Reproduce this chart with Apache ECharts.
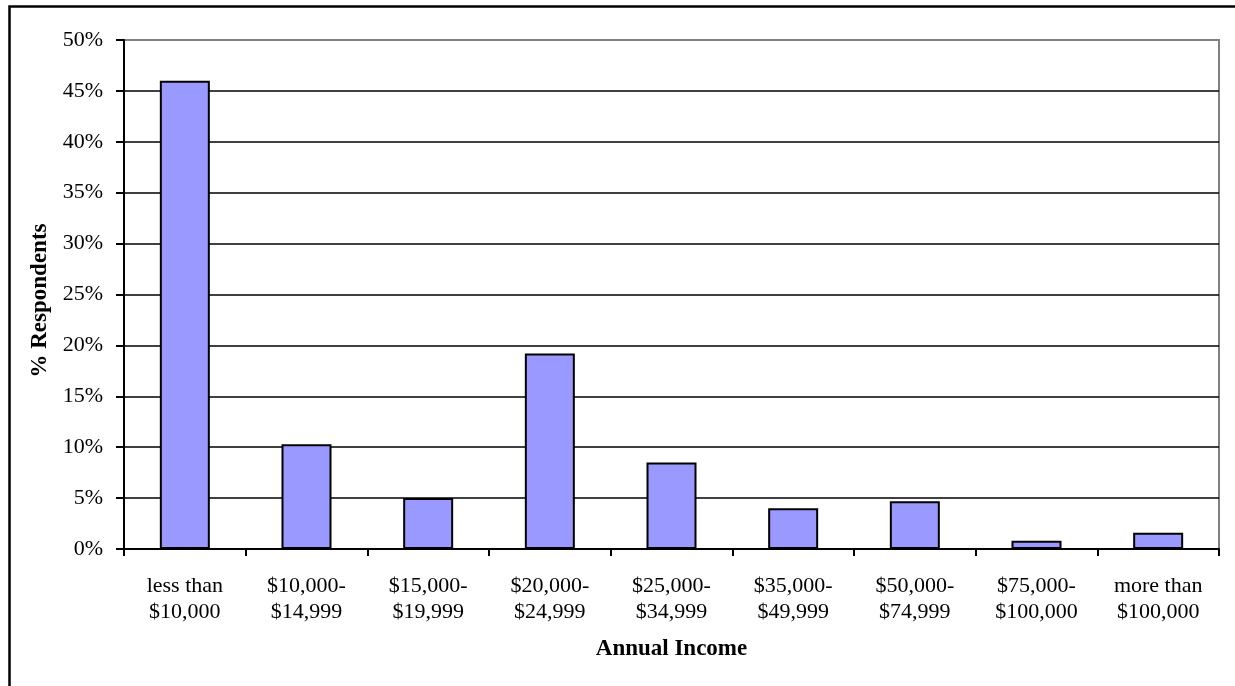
<!DOCTYPE html>
<html>
<head>
<meta charset="utf-8">
<script src="https://cdn.jsdelivr.net/npm/echarts@6/dist/echarts.min.js"></script>
<style>
  html, body { margin: 0; padding: 0; background: #fff; }
  #chart { width: 1235px; height: 686px; }
</style>
</head>
<body>
<div id="chart"></div>
<script>
// Income brackets and share of respondents in each (percent)
const categories = [
  'less than\n$10,000',
  '$10,000-\n$14,999',
  '$15,000-\n$19,999',
  '$20,000-\n$24,999',
  '$25,000-\n$34,999',
  '$35,000-\n$49,999',
  '$50,000-\n$74,999',
  '$75,000-\n$100,000',
  'more than\n$100,000'
];
const respondents = [46.0, 10.3, 5.0, 19.2, 8.5, 4.0, 4.7, 0.8, 1.6];

const yMin = 0;
const yMax = 50;
const yStep = 5;

const xTitle = 'Annual Income';
const yTitle = '% Respondents';

const FONT = '"Liberation Serif", "Times New Roman", serif';

// gridlines are black except the top one, which sits on the grey plot border
const splitColors = [];
for (let v = yMin; v <= yMax; v += yStep) splitColors.push(v === yMax ? '#808080' : '#000000');

const chart = echarts.init(document.getElementById('chart'), null, { renderer: 'canvas' });

chart.setOption({
  animation: false,
  backgroundColor: '#ffffff',
  graphic: [{
    type: 'rect',
    left: 7, top: 4,
    shape: { width: 1260, height: 720 },
    style: { fill: 'none', stroke: '#000', lineWidth: 2.5 },
    silent: true,
    z: 100
  }],
  grid: {
    left: 124, right: 16, top: 40, bottom: 137,
    show: true,
    borderColor: '#808080',
    borderWidth: 2,
    containLabel: false
  },
  xAxis: {
    type: 'category',
    data: categories,
    boundaryGap: true,
    name: xTitle,
    nameLocation: 'middle',
    nameGap: 89,
    nameTextStyle: { fontFamily: FONT, fontSize: 23, fontWeight: 'bold', color: '#000' },
    axisLine: { show: true, lineStyle: { color: '#000', width: 2 } },
    axisTick: { show: true, inside: false, length: 7, alignWithLabel: false, lineStyle: { color: '#000', width: 2 } },
    axisLabel: {
      interval: 0,
      margin: 24,
      fontFamily: FONT,
      fontSize: 22,
      lineHeight: 26,
      color: '#000'
    },
    splitLine: { show: false }
  },
  yAxis: {
    type: 'value',
    min: yMin,
    max: yMax,
    interval: yStep,
    name: yTitle,
    nameLocation: 'middle',
    nameGap: 64,
    nameRotate: 90,
    nameTextStyle: { fontFamily: FONT, fontSize: 23, fontWeight: 'bold', color: '#000', padding: [0, 12, 0, 0] },
    axisLine: { show: true, lineStyle: { color: '#000', width: 2 } },
    axisTick: { show: true, inside: false, length: 8, lineStyle: { color: '#000', width: 2 } },
    axisLabel: {
      margin: 21,
      fontFamily: FONT,
      fontSize: 22,
      color: '#000',
      formatter: v => v + '%'
    },
    splitLine: { show: true, lineStyle: { color: splitColors, width: 1.5 } }
  },
  series: [{
    type: 'bar',
    data: respondents,
    barWidth: 50,
    itemStyle: { color: '#9999FF', borderColor: '#000', borderWidth: 2 },
    label: { show: false }
  }]
});
</script>
</body>
</html>
